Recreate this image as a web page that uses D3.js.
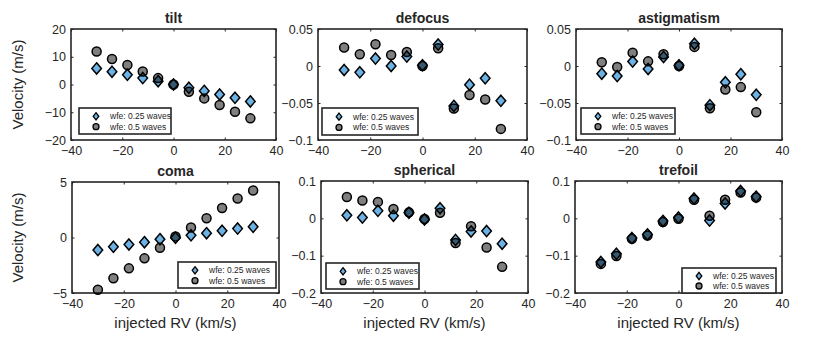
<!DOCTYPE html>
<html>
<head>
<meta charset="utf-8">
<script src="https://cdn.jsdelivr.net/npm/d3@7"></script>
<style>
  body { margin: 0; background: #fff; }
  text { font-family: "Liberation Sans", Arial, Helvetica, sans-serif; fill: #262626; }
</style>
</head>
<body>
<svg id="canvas" width="830" height="340"></svg>
<script>
// injected RV values (km/s), same for every panel
var rvKms = [-30, -24, -18, -12, -6, 0, 6, 12, 18, 24, 30];

var panelTitles = ["tilt", "defocus", "astigmatism", "coma", "spherical", "trefoil"];
var legendLabels = ["wfe: 0.25 waves", "wfe: 0.5 waves"];
var xTicks = [-40, -20, 0, 20, 40];

// velocity (m/s), one pair of arrays per aberration
var tiltQuarter = [5.8, 4.6, 3.5, 2.3, 1.2, 0, -1.2, -2.3, -3.6, -4.8, -6.1];
var tiltHalf = [11.9, 9.2, 7.0, 4.7, 2.3, 0, -2.6, -5.0, -7.4, -9.8, -12.2];

var defocusQuarter = [-0.0054, -0.0086, 0.010, 0, 0.0127, 0.001, 0.029, -0.054, -0.0253, -0.0167, -0.047];
var defocusHalf = [0.0249, 0.0158, 0.0294, 0.0149, 0.019, 0, 0.024, -0.0574, -0.0393, -0.0452, -0.085];

var astigQuarter = [-0.0104, -0.0136, 0.006, -0.004, 0.0122, 0.001, 0.030, -0.053, -0.022, -0.011, -0.039];
var astigHalf = [0.005, -0.0014, 0.018, 0.0063, 0.0158, 0, 0.0258, -0.057, -0.0317, -0.0285, -0.0624];

var comaQuarter = [-1.13, -0.84, -0.63, -0.42, -0.15, -0.03, 0.2, 0.39, 0.6, 0.8, 0.96];
var comaHalf = [-4.7, -3.67, -2.78, -1.88, -0.93, 0.1, 0.9, 1.73, 2.66, 3.52, 4.24];

var sphericalQuarter = [0.008, 0.002, 0.020, 0.007, 0.015, -0.003, 0.027, -0.058, -0.035, -0.034, -0.068];
var sphericalHalf = [0.057, 0.048, 0.044, 0.025, 0.016, -0.002, 0.015, -0.066, -0.021, -0.078, -0.130];

var trefoilQuarter = [-0.117, -0.095, -0.053, -0.043, -0.007, 0.002, 0.053, -0.006, 0.040, 0.073, 0.058];
var trefoilHalf = [-0.122, -0.101, -0.055, -0.046, -0.010, -0.001, 0.050, 0.007, 0.050, 0.069, 0.056];

// y axis limits and ticks
var yDomains = [[-20, 20], [-0.1, 0.05], [-0.1, 0.05], [-5, 5], [-0.2, 0.1], [-0.2, 0.1]];
var yTicks = [[-20, -10, 0, 10, 20], [-0.1, -0.05, 0, 0.05], [-0.1, -0.05, 0, 0.05], [-5, 0, 5], [-0.2, -0.1, 0, 0.1], [-0.2, -0.1, 0, 0.1]];

var quarterSeries = [tiltQuarter, defocusQuarter, astigQuarter, comaQuarter, sphericalQuarter, trefoilQuarter];
var halfSeries = [tiltHalf, defocusHalf, astigHalf, comaHalf, sphericalHalf, trefoilHalf];

var svg = d3.select("#canvas");

var boxes = [
  [71, 29, 276, 140], [318, 29, 527, 140], [576, 29, 782, 140],
  [72, 182, 279, 293], [321, 181, 528, 293], [575, 181, 782, 293]
];
var legendBoxes = [
  [79, 108, 92, 26], [322, 108, 96, 27], [581, 108, 94, 26],
  [178, 262, 98, 26], [326, 263, 93, 26], [682, 268, 94, 25]
];

var blueFill = "#6cb2e4";
var axisColor = "#262626";

function diamond(w, h) {
  return "M0," + (-h) + "L" + w + ",0L0," + h + "L" + (-w) + ",0Z";
}

function drawPanel(i) {
  var b = boxes[i];
  var x = d3.scaleLinear().domain([-40, 40]).range([b[0], b[2]]);
  var y = d3.scaleLinear().domain(yDomains[i]).range([b[3], b[1]]);
  var g = svg.append("g");

  // ticks on all 4 sides (inward), like matlab box on
  var tickLen = 2.5;
  var xa = d3.axisBottom(x).tickValues(xTicks).tickSizeInner(-tickLen).tickSizeOuter(0).tickPadding(6).tickFormat(d3.format("d"));
  var ya = d3.axisLeft(y).tickValues(yTicks[i]).tickSizeInner(-tickLen).tickSizeOuter(0).tickPadding(5).tickFormat(function(d){ return d3.format("")(d); });

  g.append("g").attr("transform", "translate(0," + b[3] + ")").call(xa);
  g.append("g").attr("transform", "translate(" + b[0] + ",0)").call(ya);
  g.append("g").attr("transform", "translate(0," + b[1] + ")")
    .call(d3.axisTop(x).tickValues(xTicks).tickSizeInner(-tickLen).tickSizeOuter(0).tickFormat(""));
  g.append("g").attr("transform", "translate(" + b[2] + ",0)")
    .call(d3.axisRight(y).tickValues(yTicks[i]).tickSizeInner(-tickLen).tickSizeOuter(0).tickFormat(""));

  g.selectAll(".domain").remove();
  g.selectAll(".tick line").attr("stroke", axisColor).attr("stroke-width", 1);
  g.selectAll(".tick text").style("font-size", "12.5px").attr("fill", axisColor);

  g.append("rect")
    .attr("x", b[0]).attr("y", b[1])
    .attr("width", b[2] - b[0]).attr("height", b[3] - b[1])
    .attr("fill", "none").attr("stroke", axisColor).attr("stroke-width", 1.6);

  // diamonds (0.25 waves)
  g.append("g").selectAll("path")
    .data(quarterSeries[i])
    .enter().append("path")
    .attr("d", diamond(4.8, 5.6))
    .attr("transform", function(d, j) { return "translate(" + x(rvKms[j]) + "," + y(d) + ")"; })
    .attr("fill", blueFill).attr("stroke", "#000").attr("stroke-width", 1.5);

  // circles (0.5 waves), half transparent black
  g.append("g").selectAll("circle")
    .data(halfSeries[i])
    .enter().append("circle")
    .attr("cx", function(d, j) { return x(rvKms[j]); })
    .attr("cy", function(d) { return y(d); })
    .attr("r", 4.5)
    .attr("fill", "#000").attr("fill-opacity", 0.5)
    .attr("stroke", "#000").attr("stroke-width", 1.5);

  // title
  g.append("text")
    .attr("x", (b[0] + b[2]) / 2).attr("y", b[1] - 6)
    .attr("text-anchor", "middle")
    .style("font-size", "14px").style("font-weight", "bold")
    .attr("fill", "#000")
    .text(panelTitles[i]);

  // legend
  var lb = legendBoxes[i];
  var lg = g.append("g").attr("transform", "translate(" + lb[0] + "," + lb[1] + ")");
  lg.append("rect").attr("width", lb[2]).attr("height", lb[3])
    .attr("fill", "#fff").attr("stroke", axisColor).attr("stroke-width", 1.6);
  var rowY = [lb[3] * 0.32, lb[3] * 0.72];
  lg.append("path").attr("d", diamond(2.8, 3.6))
    .attr("transform", "translate(17," + rowY[0] + ")")
    .attr("fill", blueFill).attr("stroke", "#000").attr("stroke-width", 1.3);
  lg.append("circle").attr("cx", 17).attr("cy", rowY[1]).attr("r", 3)
    .attr("fill", "#000").attr("fill-opacity", 0.5).attr("stroke", "#000").attr("stroke-width", 1.3);
  lg.selectAll("text.leg").data(legendLabels).enter().append("text")
    .attr("x", 31).attr("y", function(d, k) { return rowY[k] + 3; })
    .style("font-size", "8.5px").attr("fill", "#000")
    .text(function(d) { return d; });

  // axis labels
  if (i % 3 === 0) {
    g.append("text")
      .attr("transform", "translate(23," + ((b[1] + b[3]) / 2) + ") rotate(-90)")
      .attr("text-anchor", "middle")
      .style("font-size", "15px")
      .text("Velocity (m/s)");
  }
  if (i >= 3) {
    g.append("text")
      .attr("x", (b[0] + b[2]) / 2).attr("y", 328)
      .attr("text-anchor", "middle")
      .style("font-size", "15px")
      .text("injected RV (km/s)");
  }
}

for (var p = 0; p < panelTitles.length; p++) {
  drawPanel(p);
}
</script>
</body>
</html>
